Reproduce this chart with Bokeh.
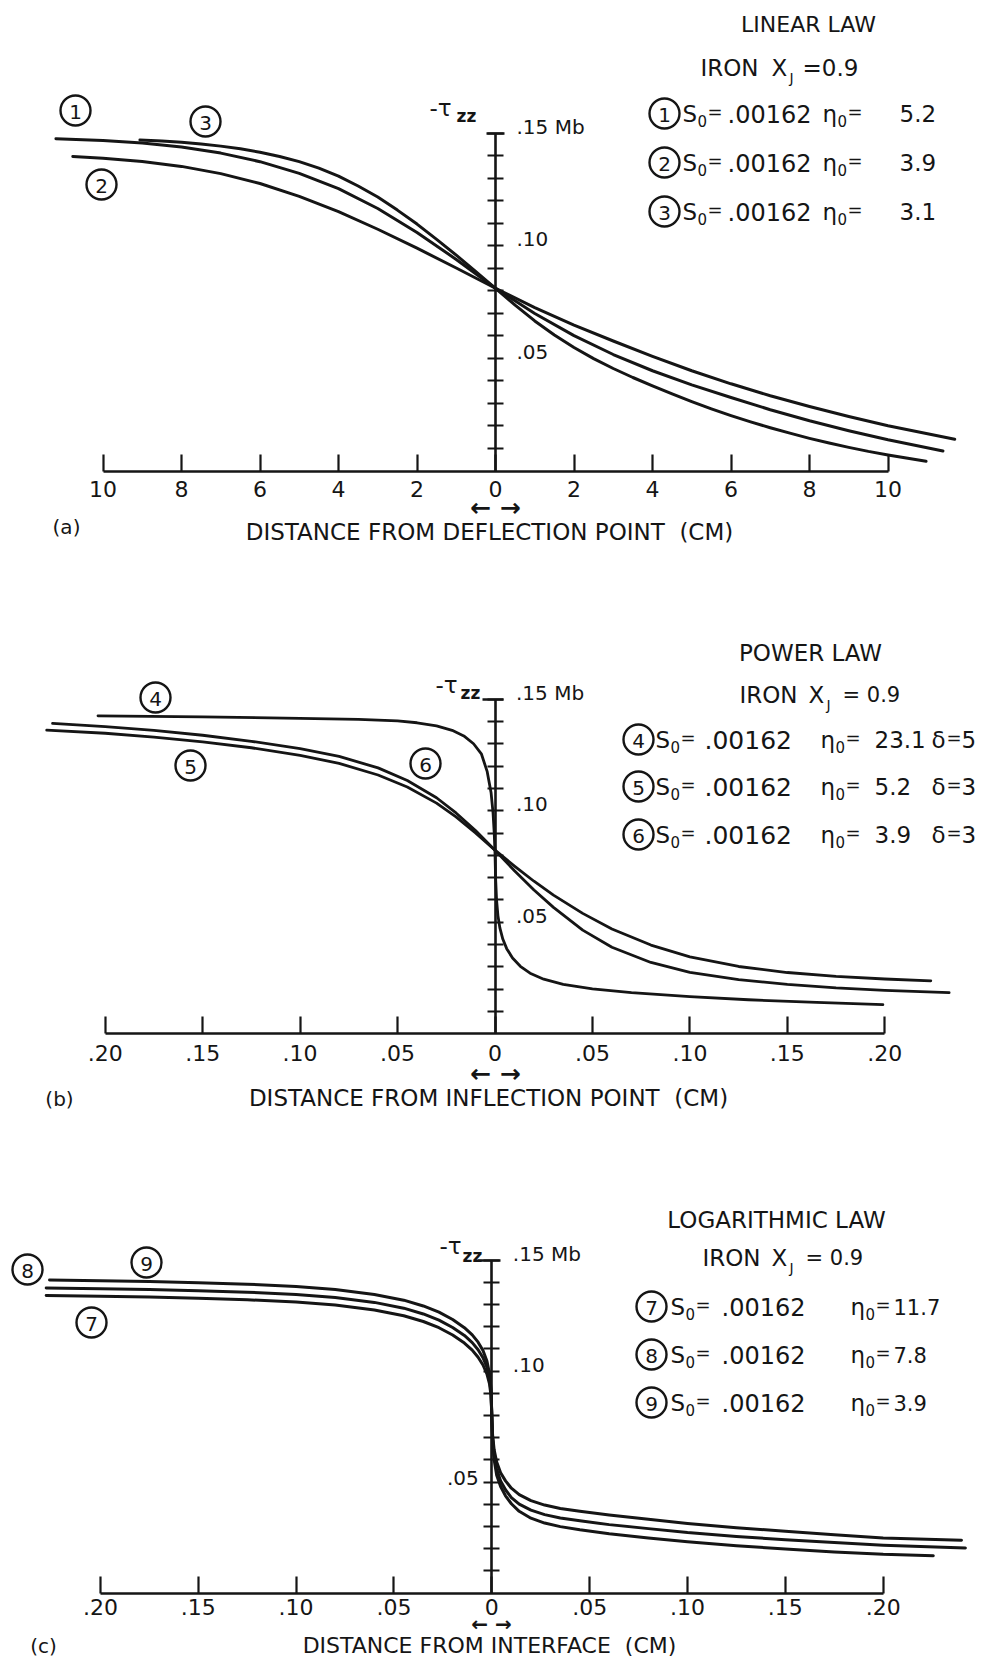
from bokeh.plotting import figure
from bokeh.models import Range1d, LinearAxis, FixedTicker, CustomJSTickFormatter, Label
from bokeh.layouts import column
from bokeh.embed import file_html
from bokeh.resources import INLINE

FONT = "DejaVu Sans"
INK = "#151515"
NB = "\u00a0"

# ---------------- data ----------------
# (a) linear law: distance from deflection point (cm) vs -tau_zz (Mb)
A1_X = [-11.2, -10.0, -9.0, -8.0, -7.0, -6.0, -5.0, -4.0, -3.0, -2.0, -1.0, 0.0,
        1.0, 2.0, 3.0, 4.0, 5.0, 6.0, 7.0, 8.0, 9.0, 10.0, 11.4]
A1_Y = [0.1475, 0.1467, 0.1456, 0.1438, 0.1411, 0.1373, 0.1321, 0.1253, 0.1165, 0.1059, 0.0939, 0.0811,
        0.0699, 0.0601, 0.0517, 0.0445, 0.0382, 0.0326, 0.0272, 0.0223, 0.0179, 0.0139, 0.0089]
A2_X = [-10.77, -10.0, -9.0, -8.0, -7.0, -6.0, -5.0, -4.0, -3.0, -2.0, -1.0, 0.0,
        1.0, 2.0, 3.0, 4.0, 5.0, 6.0, 7.0, 8.0, 9.0, 10.0, 11.7]
A2_Y = [0.1396, 0.1388, 0.1374, 0.1352, 0.1320, 0.1276, 0.1219, 0.1151, 0.1073, 0.0989, 0.0901, 0.0811,
        0.0725, 0.0647, 0.0577, 0.0509, 0.0445, 0.0387, 0.0334, 0.0286, 0.0242, 0.0201, 0.0141]
A3_X = [-9.06, -8.5, -8.0, -7.5, -7.0, -6.5, -6.0, -5.5, -5.0, -4.5, -4.0, -3.5, -3.0, -2.5, -2.0, -1.5, -1.0,
        -0.5, 0.0, 0.5, 1.0, 1.5, 2.0, 2.5, 3.0, 3.5, 4.0, 4.5, 5.0, 5.5, 6.0, 6.5, 7.0, 7.5, 8.0, 8.5, 9.0,
        9.5, 10.0, 10.97]
A3_Y = [0.1469, 0.1465, 0.1459, 0.1451, 0.1442, 0.1430, 0.1415, 0.1396, 0.1373, 0.1344, 0.1309, 0.1265,
        0.1216, 0.1158, 0.1096, 0.1028, 0.0958, 0.0885, 0.0811, 0.0736, 0.0666, 0.0604, 0.0548, 0.0499,
        0.0455, 0.0415, 0.0378, 0.0342, 0.0308, 0.0276, 0.0246, 0.0218, 0.0192, 0.0168, 0.0145, 0.0124,
        0.0105, 0.0087, 0.0071, 0.0043]

# (b) power law: distance from inflection point (cm)
B4_X = [-0.2037, -0.15, -0.10, -0.07, -0.05, -0.04, -0.03, -0.022, -0.016, -0.011, -0.007, -0.004, -0.002,
        -0.001, -0.0004, 0.0, 0.0003, 0.0008, 0.0015, 0.0025, 0.004, 0.006, 0.009, 0.013, 0.018, 0.025, 0.035,
        0.05, 0.07, 0.10, 0.13, 0.165, 0.199]
B4_Y = [0.1425, 0.1420, 0.1414, 0.1409, 0.1402, 0.1394, 0.1380, 0.1360, 0.1335, 0.1300, 0.1255, 0.1175,
        0.1080, 0.0990, 0.0900, 0.0811, 0.0700, 0.0600, 0.0530, 0.0475, 0.0425, 0.0382, 0.0340, 0.0303,
        0.0272, 0.0245, 0.0222, 0.0202, 0.0185, 0.0167, 0.0153, 0.0141, 0.0131]
B5_X = [-0.230, -0.20, -0.175, -0.15, -0.125, -0.10, -0.08, -0.06, -0.045, -0.03, -0.02, -0.01, 0.0,
        0.01, 0.02, 0.03, 0.045, 0.06, 0.08, 0.10, 0.125, 0.15, 0.175, 0.20, 0.2236]
B5_Y = [0.1361, 0.1347, 0.1330, 0.1308, 0.1282, 0.1248, 0.1212, 0.1160, 0.1106, 0.1034, 0.0972, 0.0900,
        0.0823, 0.0752, 0.0684, 0.0622, 0.0540, 0.0470, 0.0398, 0.0345, 0.0302, 0.0275, 0.0258, 0.0246, 0.0238]
B6_X = [-0.227, -0.20, -0.175, -0.15, -0.125, -0.10, -0.08, -0.06, -0.045, -0.03, -0.02, -0.01, 0.0,
        0.01, 0.02, 0.03, 0.045, 0.06, 0.08, 0.10, 0.125, 0.15, 0.175, 0.20, 0.233]
B6_Y = [0.1391, 0.1377, 0.1360, 0.1338, 0.1311, 0.1278, 0.1243, 0.1192, 0.1135, 0.1058, 0.0990, 0.0911,
        0.0823, 0.0731, 0.0645, 0.0567, 0.0465, 0.0388, 0.0320, 0.0276, 0.0243, 0.0222, 0.0206, 0.0195, 0.0185]

# (c) logarithmic law: distance from interface (cm)
C_X_MID = [-0.20, -0.175, -0.15, -0.125, -0.10, -0.08, -0.06, -0.045, -0.035, -0.027, -0.020, -0.014, -0.010,
           -0.007, -0.0045, -0.0025, -0.0012, -0.0004, 0.0, 0.0004, 0.0012, 0.0025, 0.0045, 0.007, 0.010, 0.014,
           0.020, 0.027, 0.035, 0.045, 0.06, 0.08, 0.10, 0.125, 0.15, 0.175, 0.20]
C7_X = [-0.2277] + C_X_MID + [0.240]
C7_Y = [0.1340, 0.1337, 0.1333, 0.1328, 0.1321, 0.1311, 0.1297, 0.1275, 0.1249, 0.1223, 0.1195, 0.1162, 0.1126,
        0.1094, 0.1062, 0.1027, 0.0987, 0.0943, 0.0890, 0.0800, 0.0712, 0.0645, 0.0590, 0.0542, 0.0505, 0.0472,
        0.0443, 0.0416, 0.0396, 0.0381, 0.0368, 0.0351, 0.0332, 0.0313, 0.0294, 0.0278, 0.0262, 0.0248, 0.0238]
C8_X = [-0.2277] + C_X_MID + [0.242]
C8_Y = [0.1374, 0.1371, 0.1367, 0.1362, 0.1355, 0.1345, 0.1331, 0.1309, 0.1283, 0.1257, 0.1229, 0.1196, 0.1160,
        0.1128, 0.1096, 0.1060, 0.1017, 0.0968, 0.0905, 0.0800, 0.0700, 0.0620, 0.0558, 0.0505, 0.0465, 0.0430,
        0.0400, 0.0373, 0.0353, 0.0338, 0.0325, 0.0308, 0.0290, 0.0272, 0.0255, 0.0240, 0.0227, 0.0215, 0.0203]
C9_X = [-0.226] + C_X_MID + [0.2256]
C9_Y = [0.1410, 0.1407, 0.1403, 0.1398, 0.1391, 0.1381, 0.1367, 0.1345, 0.1319, 0.1293, 0.1265, 0.1232, 0.1195,
        0.1163, 0.1130, 0.1092, 0.1045, 0.0990, 0.0920, 0.0800, 0.0690, 0.0600, 0.0530, 0.0480, 0.0438, 0.0402,
        0.0368, 0.0337, 0.0315, 0.0299, 0.0285, 0.0267, 0.0248, 0.0231, 0.0213, 0.0198, 0.0185, 0.0174, 0.0168]

A_XTICKS = [-10, -8, -6, -4, -2, 0, 2, 4, 6, 8, 10]
BC_XTICKS = [-0.20, -0.15, -0.10, -0.05, 0.0, 0.05, 0.10, 0.15, 0.20]
Y_TICKS = [0.01, 0.02, 0.03, 0.04, 0.05, 0.06, 0.07, 0.08, 0.09, 0.10, 0.11, 0.12, 0.13, 0.14, 0.15]
Y_LABELED = [0.05, 0.10, 0.15]

S0 = ".00162"
A_TITLE, A_IDS, A_ETA = "LINEAR LAW", ["1", "2", "3"], ["5.2", "3.9", "3.1"]
B_TITLE, B_IDS, B_ETA, B_DELTA = "POWER LAW", ["4", "5", "6"], ["23.1", "5.2", "3.9"], ["5", "3", "3"]
C_TITLE, C_IDS, C_ETA = "LOGARITHMIC LAW", ["7", "8", "9"], ["11.7", "7.8", "3.9"]
A_XLABEL = "DISTANCE FROM DEFLECTION POINT" + NB + NB + "(CM)"
B_XLABEL = "DISTANCE FROM INFLECTION POINT" + NB + NB + "(CM)"
C_XLABEL = "DISTANCE FROM INTERFACE" + NB + NB + "(CM)"

W = 975


def make_panel(top, h, zx, sx, zy, sy):
    xr = Range1d((0 - zx) / sx, (W - zx) / sx)
    yr = Range1d((zy - (top + h)) / sy, (zy - top) / sy)
    p = figure(width=W, height=h, x_range=xr, y_range=yr, x_axis_type=None, y_axis_type=None,
               toolbar_location=None, output_backend="svg", min_border=0)
    p.outline_line_color = None
    p.background_fill_color = "white"

    def at(xpx, ypx):
        return (xpx - zx) / sx, (zy - ypx) / sy
    return p, at


def txt(p, at, xpx, ypx, s, size=23, align="left", style="normal"):
    x, y = at(xpx, ypx)
    p.add_layout(Label(x=x, y=y, text=s, text_font=FONT, text_font_size=f"{size}px", text_color=INK,
                       text_align=align, text_baseline="middle", text_font_style=style))


def circ(p, at, xpx, ypx, n):
    x, y = at(xpx, ypx)
    p.scatter(x=[x], y=[y], marker="circle", size=30, fill_color=None, line_color=INK, line_width=2.4)
    txt(p, at, xpx, ypx + 1, n, size=20, align="center")


def sym0(p, at, xpx, ypx, base):
    # letter with subscript 0 followed by "="
    txt(p, at, xpx, ypx, base, size=23)
    txt(p, at, xpx + 15, ypx + 7, "0", size=15)
    txt(p, at, xpx + 25, ypx - 2, "=", size=18)


LABEL_CODE = ("const k = Math.round(tick*100);"
              "if (k === 15) return '.15 Mb'; if (k === 10) return '.10'; if (k === 5) return '.05'; return '';")


def axes(p, sy, xticks, xcode, xstand, cap_in, cap_out, right_labels, left_labels=()):
    xa = LinearAxis(fixed_location=0, ticker=FixedTicker(ticks=xticks),
                    formatter=CustomJSTickFormatter(code=xcode), bounds=(xticks[0], xticks[-1]))
    xa.axis_line_width = 2.6
    xa.axis_line_color = INK
    xa.major_tick_in = 17
    xa.major_tick_out = 0
    xa.major_tick_line_width = 2.2
    xa.major_tick_line_color = INK
    xa.minor_tick_line_color = None
    xa.major_label_standoff = xstand
    xa.major_label_text_font = FONT
    xa.major_label_text_font_size = "22px"
    xa.major_label_text_color = INK
    p.add_layout(xa, "below")

    # vertical axis line and ticks every .01
    ya = LinearAxis(fixed_location=0, ticker=FixedTicker(ticks=Y_TICKS),
                    formatter=CustomJSTickFormatter(code="return '';"), bounds=(0, Y_TICKS[-1]))
    ya.axis_line_width = 2.6
    ya.axis_line_color = INK
    ya.major_tick_in = 8
    ya.major_tick_out = 8
    ya.major_tick_line_width = 2.2
    ya.major_tick_line_color = INK
    ya.minor_tick_line_color = None
    p.add_layout(ya, "right")

    # wider cap tick at the top value
    cap = LinearAxis(fixed_location=0, ticker=FixedTicker(ticks=[Y_TICKS[-1]]),
                     formatter=CustomJSTickFormatter(code="return '';"))
    cap.axis_line_color = None
    cap.major_tick_in = cap_in
    cap.major_tick_out = cap_out
    cap.major_tick_line_width = 2.4
    cap.major_tick_line_color = INK
    cap.minor_tick_line_color = None
    p.add_layout(cap, "right")

    # tick labels, lettered slightly above their ticks as in the original
    lift = 6.5 / sy
    ra = LinearAxis(fixed_location=0, ticker=FixedTicker(ticks=[v + lift for v in right_labels]),
                    formatter=CustomJSTickFormatter(code=LABEL_CODE))
    ra.axis_line_color = None
    ra.major_tick_line_color = None
    ra.minor_tick_line_color = None
    ra.major_tick_out = 0
    ra.major_tick_in = 0
    ra.major_label_standoff = 21
    ra.major_label_text_font = FONT
    ra.major_label_text_font_size = "20px"
    ra.major_label_text_color = INK
    p.add_layout(ra, "right")

    if left_labels:
        la = LinearAxis(fixed_location=0, ticker=FixedTicker(ticks=[v + 0.6 * lift for v in left_labels]),
                        formatter=CustomJSTickFormatter(code=LABEL_CODE))
        la.axis_line_color = None
        la.major_tick_line_color = None
        la.minor_tick_line_color = None
        la.major_tick_out = 0
        la.major_tick_in = 0
        la.major_label_standoff = 13
        la.major_label_text_font = FONT
        la.major_label_text_font_size = "20px"
        la.major_label_text_color = INK
        p.add_layout(la, "left")


def tau(p, at, x1, y1, x2, y2):
    txt(p, at, x1, y1, "-\u03c4", size=23, align="center")
    txt(p, at, x2, y2, "zz", size=17, align="center", style="bold")


def iron(p, at, x_iron, x_x, x_j, x_eq, y, eq_text, eq_size=23):
    txt(p, at, x_iron, y, "IRON", size=23)
    txt(p, at, x_x, y, "X", size=23)
    txt(p, at, x_j, y + 10, "J", size=14)
    txt(p, at, x_eq, y, eq_text, size=eq_size)


X_CM = "return Math.abs(Math.round(tick)).toString();"
X_FRAC = ("const v = Math.abs(Math.round(tick*100));"
          "return v === 0 ? '0' : '.' + (v < 10 ? '0' + v : '' + v);")
ARROWS = "\u2190" + NB + "\u2192"

# ---------------- panel (a) ----------------
pa, ata = make_panel(0, 560, 495.0, 39.25, 470.5, 2253.0)
for xs, ys in [(A1_X, A1_Y), (A2_X, A2_Y), (A3_X, A3_Y)]:
    pa.line(xs, ys, line_width=3, line_color=INK, line_join="round", line_cap="round")
axes(pa, 2253.0, A_XTICKS, X_CM, 10, 9, 9, Y_LABELED)
tau(pa, ata, 440, 107, 466, 115)
txt(pa, ata, 808, 24, A_TITLE, size=22, align="center")
iron(pa, ata, 700, 771, 789, 802, 67, "=0.9")
for i, yy in enumerate([113, 162, 211]):
    circ(pa, ata, 664, yy, A_IDS[i])
    sym0(pa, ata, 682, yy, "S")
    txt(pa, ata, 727, yy, S0, size=24)
    sym0(pa, ata, 822, yy, "\u03b7")
    txt(pa, ata, 899, yy, A_ETA[i])
circ(pa, ata, 75, 110, A_IDS[0])
circ(pa, ata, 205, 121, A_IDS[2])
circ(pa, ata, 101, 184, A_IDS[1])
txt(pa, ata, 495, 507, ARROWS, size=25, align="center", style="bold")
txt(pa, ata, 489, 531, A_XLABEL, size=23, align="center")
txt(pa, ata, 66, 526, "(a)", size=20, align="center")

# ---------------- panel (b) ----------------
pb, atb = make_panel(560, 560, 494.5, 1949.0, 1033.4, 2232.0)
for xs, ys in [(B4_X, B4_Y), (B5_X, B5_Y), (B6_X, B6_Y)]:
    pb.line(xs, ys, line_width=2.8, line_color=INK, line_join="round", line_cap="round")
axes(pb, 2232.0, BC_XTICKS, X_FRAC, 11, 13, 8, Y_LABELED)
tau(pb, atb, 446, 684, 470, 692)
txt(pb, atb, 810, 652, B_TITLE, size=23, align="center")
iron(pb, atb, 739, 808, 826, 842, 694, "= 0.9", eq_size=21)
for i, yy in enumerate([739, 786, 834]):
    circ(pb, atb, 638, yy, B_IDS[i])
    sym0(pb, atb, 655, yy, "S")
    txt(pb, atb, 704, yy, S0, size=25)
    sym0(pb, atb, 820, yy, "\u03b7")
    txt(pb, atb, 874, yy, B_ETA[i])
    txt(pb, atb, 931, yy, "\u03b4", size=23)
    txt(pb, atb, 946, yy - 2, "=", size=18)
    txt(pb, atb, 961, yy, B_DELTA[i])
circ(pb, atb, 155, 697, B_IDS[0])
circ(pb, atb, 190, 765, B_IDS[1])
circ(pb, atb, 425, 763, B_IDS[2])
txt(pb, atb, 495, 1073, ARROWS, size=25, align="center", style="bold")
txt(pb, atb, 488, 1097, B_XLABEL, size=23, align="center")
txt(pb, atb, 59, 1098, "(b)", size=20, align="center")

# ---------------- panel (c) ----------------
pc, atc = make_panel(1120, 539, 491.3, 1957.0, 1592.5, 2220.0)
for xs, ys in [(C7_X, C7_Y), (C8_X, C8_Y), (C9_X, C9_Y)]:
    pc.line(xs, ys, line_width=3, line_color=INK, line_join="round", line_cap="round")
axes(pc, 2220.0, BC_XTICKS, X_FRAC, 6, 14, 9, [0.10, 0.15], left_labels=[0.05])
tau(pc, atc, 450, 1245, 472, 1255)
txt(pc, atc, 776, 1219, C_TITLE, size=23, align="center")
iron(pc, atc, 702, 771, 789, 805, 1257, "= 0.9", eq_size=21)
for i, yy in enumerate([1306, 1354, 1402]):
    circ(pc, atc, 651, yy, C_IDS[i])
    sym0(pc, atc, 670, yy, "S")
    txt(pc, atc, 721, yy, S0, size=24)
    sym0(pc, atc, 850, yy, "\u03b7")
    txt(pc, atc, 893, yy, C_ETA[i], size=21)
circ(pc, atc, 27, 1269, C_IDS[1])
circ(pc, atc, 146, 1262, C_IDS[2])
circ(pc, atc, 91, 1322, C_IDS[0])
txt(pc, atc, 491, 1623, ARROWS, size=20, align="center", style="bold")
txt(pc, atc, 489, 1645, C_XLABEL, size=22, align="center")
txt(pc, atc, 43, 1645, "(c)", size=20, align="center")

page = column(pa, pb, pc, spacing=0)
open("out.html", "w").write(file_html(page, INLINE))
